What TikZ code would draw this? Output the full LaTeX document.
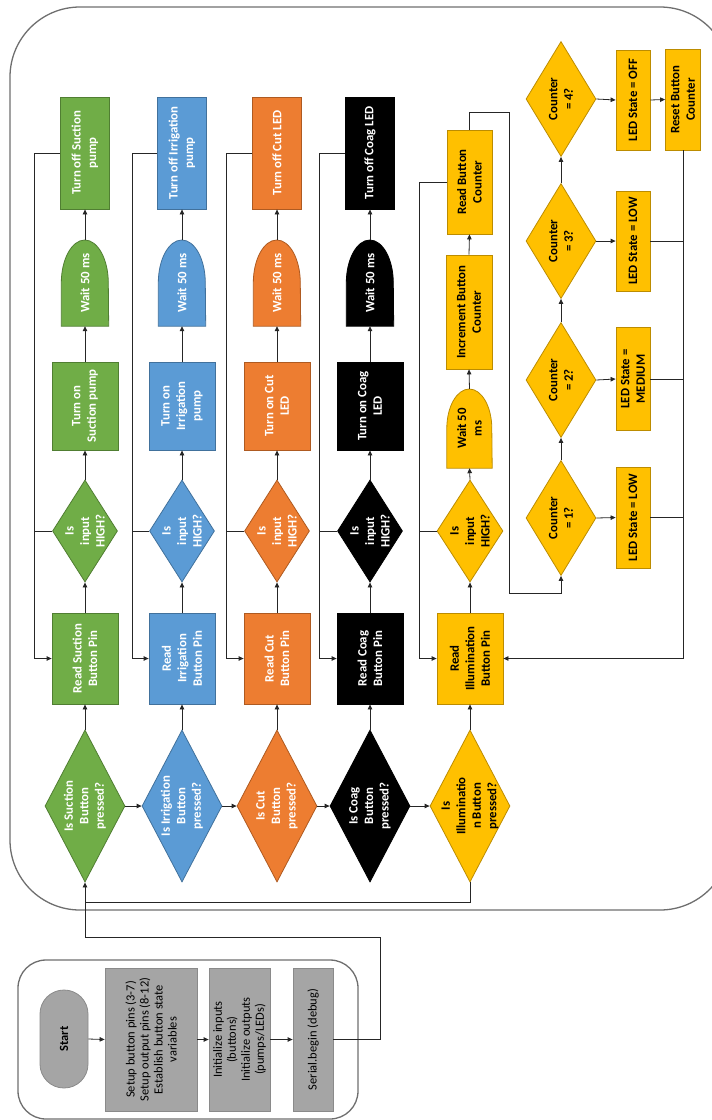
\documentclass[tikz,border=0pt]{standalone}
\usepackage{fontspec}
\setmainfont{Carlito}
\usetikzlibrary{shapes.geometric,arrows.meta}
\definecolor{cG}{HTML}{70AD47}\definecolor{cGd}{HTML}{507E32}
\definecolor{cB}{HTML}{5B9BD5}\definecolor{cBd}{HTML}{41719C}
\definecolor{cO}{HTML}{ED7D31}\definecolor{cOd}{HTML}{AE5A21}
\definecolor{cY}{HTML}{FFC000}\definecolor{cYd}{HTML}{BC8C00}
\definecolor{cK}{HTML}{000000}
\definecolor{cGr}{HTML}{A5A5A5}\definecolor{cGrd}{HTML}{8A8A8A}
\definecolor{cFrame}{HTML}{6E6E6E}
\definecolor{cLine}{HTML}{262626}
\begin{document}
\begin{tikzpicture}[x=1pt,y=1pt,
  boxn/.style={rectangle,inner sep=0pt,line width=0.8pt},
  decn/.style={diamond,inner sep=0pt,line width=0.8pt},
  txt/.style={rotate=90,align=center,inner sep=0pt,font=\bfseries\fontsize{12.8}{15.5}\selectfont},
  gtxt/.style={rotate=90,align=center,inner sep=0pt,font=\fontsize{12.5}{14}\selectfont},
  conn/.style={draw=cLine,line width=0.8pt},
  arr/.style={conn,-{Triangle[length=5pt,width=4.5pt]}},
  sGreen/.style={fill=cG,draw=cGd},
  sBlue/.style={fill=cB,draw=cBd},
  sOrange/.style={fill=cO,draw=cOd},
  sBlack/.style={fill=cK,draw=cK},
  sYellow/.style={fill=cY,draw=cYd},
  sGray/.style={fill=cGr,draw=cGrd},
  fr/.style={draw=cFrame,line width=1.3pt}]
\useasboundingbox (0,0) rectangle (712,-1120);
\clip (0,0) rectangle (712,-1120);

% frames
\draw[fr,rounded corners=70] (10,-7) rectangle (730,-910);
\draw[fr,rounded corners=28] (18,-960) rectangle (358,-1119);

% four identical columns
\foreach \p/\cx/\lx/\st/\ta/\tb/\tc/\td in {
  g/85/34/sGreen/{Is Suction\\Button\\pressed?}/{Read Suction\\Button Pin}/{Turn on\\Suction pump}/{Turn off Suction\\pump},
  b/182/132/sBlue/{Is Irrigation\\Button\\pressed?}/{Read\\Irrigation\\Button Pin}/{Turn on\\Irrigation\\pump}/{Turn off Irrigation\\pump},
  o/277/226/sOrange/{Is Cut\\Button\\pressed?}/{Read Cut\\Button Pin}/{Turn on Cut\\LED}/{Turn off Cut LED},
  k/370/319/sBlack/{Is Coag\\Button\\pressed?}/{Read Coag\\Button Pin}/{Turn on Coag\\LED}/{Turn off Coag LED}}{
  \coordinate (\p-L) at (\lx,0);
  \node[decn,\st,minimum width=80,minimum height=152] (\p-d1) at (\cx,-806) {};
  \node[boxn,\st,minimum width=66,minimum height=91] (\p-r) at (\cx,-658.5) {};
  \node[decn,\st,minimum width=65,minimum height=102] (\p-h) at (\cx,-531) {};
  \node[boxn,\st,minimum width=66,minimum height=88] (\p-on) at (\cx,-406) {};
  \node[minimum width=47,minimum height=86,inner sep=0pt] (\p-w) at (\cx,-283) {};
  \path[\st,line width=0.8pt] (\p-w.south west) -- (\p-w.west)
     arc[start angle=180,end angle=0,x radius=23.5,y radius=43] -- (\p-w.south east) -- cycle;
  \node[boxn,\st,minimum width=49,minimum height=112] (\p-off) at (\cx,-153) {};
  \node[txt,text=white] (\p-d1t) at (\p-d1) {\ta};
  \node[txt,text=white] (\p-rt) at (\p-r) {\tb};
  \node[txt,text=white] (\p-ht) at (\p-h) {Is\\input\\HIGH?};
  \node[txt,text=white] (\p-ont) at (\p-on) {\tc};
  \node[txt,text=white] (\p-wt) at (\p-w) {Wait 50 ms};
  \node[txt,text=white] (\p-offt) at (\p-off) {\td};
  \draw[arr] (\p-d1.north) -- (\p-r.south);
  \draw[arr] (\p-r.north) -- (\p-h.south);
  \draw[arr] (\p-h.north) -- (\p-on.south);
  \draw[arr] (\p-on.north) -- (\p-w.south);
  \draw[arr] (\p-w.north) -- (\p-off.south);
  \draw[arr] (\p-off.west) -- (\p-off.west -| \p-L) -- (\p-r.west -| \p-L) -- (\p-r.west);
  \draw[conn] (\p-h.west) -- (\p-h.west -| \p-L);
}

% illumination column
\coordinate (y-L) at (419,0);
\node[decn,sYellow,minimum width=80,minimum height=152] (y-d1) at (470,-806) {};
\node[boxn,sYellow,minimum width=66,minimum height=91] (y-r) at (470,-658.5) {};
\node[decn,sYellow,minimum width=66,minimum height=102] (y-h) at (470,-531) {};
\node[minimum width=45,minimum height=79,inner sep=0pt] (y-w) at (469.5,-428.5) {};
\path[sYellow,line width=0.8pt] (y-w.south west) -- (y-w.west)
   arc[start angle=180,end angle=0,x radius=22.5,y radius=39.5] -- (y-w.south east) -- cycle;
\node[boxn,sYellow,minimum width=46,minimum height=114] (y-inc) at (469,-312) {};
\node[boxn,sYellow,minimum width=45,minimum height=104] (y-rc) at (469.5,-182) {};
\node[txt] (y-d1t) at (y-d1) {Is\\Illuminatio\\n Button\\pressed?};
\node[txt] (y-rt) at (y-r) {Read\\Illumination\\Button Pin};
\node[txt] (y-ht) at (y-h) {Is\\input\\HIGH?};
\node[txt] (y-wt) at (y-w) {Wait 50\\ms};
\node[txt] (y-inct) at (y-inc) {Increment Button\\Counter};
\node[txt] (y-rct) at (y-rc) {Read Button\\Counter};

% counter decisions
\foreach \i/\yy/\ly/\lh/\lt in {1/518/517.5/101/{LED State = LOW},
                               2/380/379/103/{LED State =\\MEDIUM},
                               3/241/241/100/{LED State = LOW},
                               4/99/100/100/{LED State = OFF}}{
  \node[decn,sYellow,minimum width=70,minimum height=115] (c\i) at (561,-\yy) {};
  \node[txt] (c\i t) at (c\i) {Counter\\= \i?};
  \node[boxn,sYellow,minimum width=34,minimum height=\lh] (l\i) at (633,-\ly) {};
  \node[txt] (l\i t) at (l\i) {\lt};
  \draw[arr] (c\i.east) -- (l\i.west);
}
\node[boxn,sYellow,minimum width=35,minimum height=101] (rst) at (683,-99.5) {};
\node[txt] (rstt) at (rst) {Reset Button\\Counter};

% gray init section
\node[sGray,rectangle,rounded corners=23.9,minimum width=48,minimum height=98,line width=0.8pt] (start) at (64,-1039) {};
\node[boxn,sGray,minimum width=92,minimum height=143] (setup) at (151,-1039.5) {};
\node[boxn,sGray,minimum width=61,minimum height=143] (init) at (239.5,-1039.5) {};
\node[boxn,sGray,minimum width=40,minimum height=143] (ser) at (313,-1039.5) {};
\node[gtxt,font=\bfseries\fontsize{12.5}{14}\selectfont] (startt) at (start) {Start};
\node[gtxt] (setupt) at (setup) {Setup button pins (3-7)\\Setup output pins (8-12)\\Establish button state\\variables};
\node[gtxt] (initt) at (init) {Initialize inputs\\(buttons)\\Initialize outputs\\(pumps/LEDs)};
\node[gtxt] (sert) at (ser) {Serial.begin (debug)};

% connectors
\draw[arr] (start.east) -- (setup.west);
\draw[arr] (setup.east) -- (init.west);
\draw[arr] (init.east) -- (ser.west);
\coordinate (s2) at (380,-937);
\draw[arr] (ser.east) -- (ser.east -| s2) -- (s2) -- (s2 -| g-d1.south) -- (g-d1.south);
\coordinate (j1) at (85,-902);
\draw[conn] (y-d1.south) -- (y-d1.south |- j1) -- (j1);

\draw[arr] (g-d1.east) -- (b-d1.west);
\draw[arr] (b-d1.east) -- (o-d1.west);
\draw[arr] (o-d1.east) -- (k-d1.west);
\draw[arr] (k-d1.east) -- (y-d1.west);

\draw[arr] (y-d1.north) -- (y-r.south);
\draw[arr] (y-r.north) -- (y-h.south);
\draw[arr] (y-h.north) -- (y-w.south);
\draw[arr] (y-w.north) -- (y-inc.south);
\draw[arr] (y-inc.north) -- (y-rc.south);
\draw[arr] (y-rc.west) -- (y-rc.west -| y-L) -- (y-r.west -| y-L) -- (y-r.west);
\draw[conn] (y-h.west) -- (y-h.west -| y-L);

\coordinate (q2) at (509,-112);
\coordinate (q3) at (509,-593);
\draw[arr] (y-rc.north) -- (y-rc.north |- q2) -- (q2) -- (q3) -- (q3 -| c1.south) -- (c1.south);
\draw[arr] (c1.north) -- (c2.south);
\draw[arr] (c2.north) -- (c3.south);
\draw[arr] (c3.north) -- (c4.south);
\draw[arr] (l4.east) -- (rst.west);
\draw[conn] (l1.east) -- (l1.east -| rst.south);
\draw[conn] (l2.east) -- (l2.east -| rst.south);
\draw[conn] (l3.east) -- (l3.east -| rst.south);
\draw[arr] (rst.south) -- (rst.south |- y-r.east) -- (y-r.east);
\end{tikzpicture}
\end{document}
